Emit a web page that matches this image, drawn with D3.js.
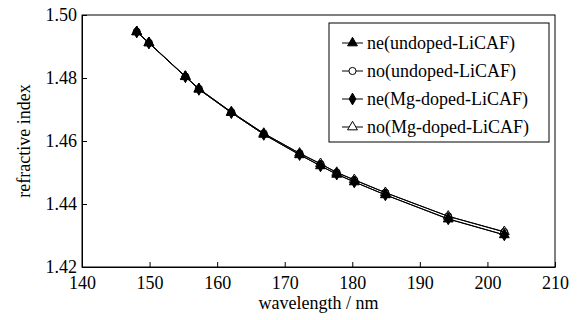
<!DOCTYPE html>
<html>
<head>
<meta charset="utf-8">
<script src="https://cdn.jsdelivr.net/npm/d3@7"></script>
<style>
  body { margin: 0; background: #fff; }
</style>
</head>
<body>
<div id="chart"></div>
<script>
// wavelengths (nm) and refractive indices
const wavelength = [148.1, 149.9, 155.3, 157.3, 162.1, 166.9, 172.2, 175.3, 177.7, 180.3, 184.9, 194.2, 202.5];
const neUndoped = [1.4946, 1.4911, 1.4804, 1.4764, 1.4690, 1.4621, 1.4556, 1.4521, 1.4494, 1.4470, 1.4429, 1.4352, 1.4302];
const noUndoped = [1.4947, 1.4912, 1.4805, 1.4766, 1.4692, 1.4624, 1.4561, 1.4527, 1.4500, 1.4476, 1.4436, 1.4361, 1.4311];
const neMgDoped = [1.4946, 1.4911, 1.4804, 1.4764, 1.4690, 1.4621, 1.4557, 1.4521, 1.4495, 1.4470, 1.4429, 1.4353, 1.4302];
const noMgDoped = [1.4947, 1.4912, 1.4805, 1.4766, 1.4692, 1.4624, 1.4561, 1.4528, 1.4500, 1.4477, 1.4436, 1.4361, 1.4312];
const seriesNames = ["ne(undoped-LiCAF)", "no(undoped-LiCAF)", "ne(Mg-doped-LiCAF)", "no(Mg-doped-LiCAF)"];
const xTicks = [140, 150, 160, 170, 180, 190, 200, 210];
const yTicks = [1.42, 1.44, 1.46, 1.48, 1.50];

const FONT = "'Liberation Serif', 'Times New Roman', Times, serif";

const width = 581, height = 320;
const margin = { top: 15, right: 26, bottom: 53, left: 82 };
const w = width - margin.left - margin.right;
const h = height - margin.top - margin.bottom;

const svg = d3.select("#chart").append("svg")
    .attr("width", width)
    .attr("height", height);

const g = svg.append("g")
    .attr("transform", `translate(${margin.left}, ${margin.top})`);

const x = d3.scaleLinear().domain([140, 210]).range([0, w]);
const y = d3.scaleLinear().domain([1.42, 1.50]).range([h, 0]);

// frame around the plot area
g.append("rect")
    .attr("width", w).attr("height", h)
    .attr("fill", "none").attr("stroke", "#000").attr("stroke-width", 1);

const xAxis = d3.axisBottom(x).tickValues(xTicks).tickFormat(d3.format("d"))
    .tickSizeInner(-5).tickSizeOuter(0).tickPadding(9);
const yAxis = d3.axisLeft(y).tickValues(yTicks).tickFormat(d3.format(".2f"))
    .tickSizeInner(-5).tickSizeOuter(0).tickPadding(5);

const xg = g.append("g").attr("transform", `translate(0, ${h})`).call(xAxis);
const yg = g.append("g").call(yAxis);
[xg, yg].forEach(a => {
    a.attr("font-family", null).attr("font-size", null);
    a.select(".domain").attr("stroke", "#000");
    a.selectAll("line").attr("stroke", "#000");
    a.selectAll("text")
        .style("font-family", FONT)
        .style("font-size", "18px")
        .attr("fill", "#000");
});

// axis titles
svg.append("text")
    .attr("x", margin.left + w / 2)
    .attr("y", 309)
    .attr("text-anchor", "middle")
    .style("font-family", FONT)
    .style("font-size", "18px")
    .text("wavelength / nm");

svg.append("text")
    .attr("transform", `translate(30, ${margin.top + h / 2}) rotate(-90)`)
    .attr("text-anchor", "middle")
    .style("font-family", FONT)
    .style("font-size", "18px")
    .text("refractive index");

const series = [
    { name: seriesNames[0], values: neUndoped, symbol: d3.symbolTriangle, size: 42, fill: "#000" },
    { name: seriesNames[1], values: noUndoped, symbol: d3.symbolCircle, size: 40, fill: "none" },
    { name: seriesNames[2], values: neMgDoped, symbol: d3.symbolDiamond, size: 40, fill: "#000" },
    { name: seriesNames[3], values: noMgDoped, symbol: d3.symbolTriangle, size: 42, fill: "none" }
];

const line = d3.line()
    .x(d => x(d.wl))
    .y(d => y(d.n));

series.forEach(s => {
    s.points = wavelength.map((wl, i) => ({ wl: wl, n: s.values[i] }));
    g.append("path")
        .datum(s.points)
        .attr("fill", "none")
        .attr("stroke", "#000")
        .attr("stroke-width", 1)
        .attr("d", line);
});

// draw open markers first so the filled ones sit on top
[series[1], series[3], series[0], series[2]].forEach(s => {
    g.selectAll(null)
        .data(s.points)
        .enter().append("path")
        .attr("transform", d => `translate(${x(d.wl)}, ${y(d.n)})`)
        .attr("d", d3.symbol().type(s.symbol).size(s.size))
        .attr("fill", s.fill)
        .attr("stroke", "#000")
        .attr("stroke-width", 1);
});

// legend
const legend = svg.append("g").attr("transform", "translate(329, 23)");
legend.append("rect")
    .attr("width", 220).attr("height", 119)
    .attr("fill", "#fff").attr("stroke", "#000").attr("stroke-width", 1);

series.forEach((s, i) => {
    const row = legend.append("g").attr("transform", `translate(0, ${20 + i * 28})`);
    row.append("line")
        .attr("x1", 13).attr("x2", 34)
        .attr("stroke", "#000").attr("stroke-width", 1);
    row.append("path")
        .attr("transform", "translate(23.5, 0)")
        .attr("d", d3.symbol().type(s.symbol).size(s.size))
        .attr("fill", s.fill === "none" ? "#fff" : s.fill)
        .attr("stroke", "#000");
    row.append("text")
        .attr("x", 38)
        .attr("dy", "0.35em")
        .style("font-family", FONT)
        .style("font-size", "18px")
        .text(s.name);
});
</script>
</body>
</html>
